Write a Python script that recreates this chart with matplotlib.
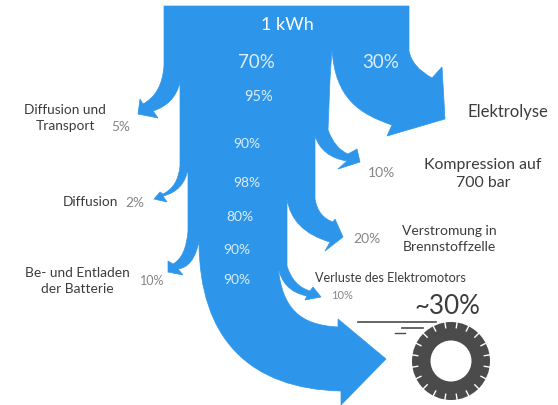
import numpy as np
import matplotlib
matplotlib.use("Agg")
import matplotlib.pyplot as plt
from matplotlib.path import Path
from matplotlib.patches import PathPatch, Circle

# ---- values and labels ----
source_label = "1 kWh"
split_values = ["70%", "30%"]
chain_values = ["95%", "90%", "98%", "80%", "90%", "90%"]
loss_values = ["5%", "2%", "10%", "10%", "20%", "10%"]
loss_names = ["Diffusion und\nTransport", "Diffusion", "Be- und Entladen\nder Batterie",
              "Kompression auf\n700 bar", "Verstromung in\nBrennstoffzelle", "Verluste des Elektromotors"]
extra_name = "Elektrolyse"
result_label = "~30%"

BLUE = "#2E96EA"
DARK = "#3c3c3c"
GREY = "#858585"
TIRE = "#4b4b4b"

plt.rcParams["font.family"] = ["Lato", "DejaVu Sans"]
fig = plt.figure(figsize=(5.58, 4.06), dpi=100)
ax = fig.add_axes([0, 0, 1, 1])
ax.set_xlim(0, 558)
ax.set_ylim(406, 0)
ax.axis("off")

# ---- outline of the Sankey band (figure drawn as one shape) ----
outline = [
    ("M", (164, 7)), ("L", (409, 7)), ("L", (409, 52)),
    ("Q", (412, 68), (432, 79)), ("L", (442, 68)), ("L", (445, 120)),
    ("L", (387, 137)), ("L", (392, 126)),
    ("C", (360, 115), (335, 100), (332, 50)),
    ("L", (330, 80)), ("L", (328, 131)),
    ("Q", (335, 150), (348, 155)), ("L", (357, 150)), ("L", (360, 163)),
    ("L", (338, 170)), ("L", (347, 162)),
    ("Q", (322, 158), (315, 137)),
    ("L", (315, 200)),
    ("Q", (318, 218), (333, 223)), ("L", (335, 220)), ("L", (343, 238)),
    ("L", (325, 252)), ("L", (330, 243)),
    ("Q", (292, 232), (287, 200)),
    ("L", (287, 267)),
    ("Q", (293, 287), (310, 292)), ("L", (313, 288)), ("L", (321, 298)),
    ("L", (305, 301)), ("L", (307, 297)),
    ("Q", (282, 292), (278, 267)),
    ("C", (282, 310), (300, 326), (338, 328)),
    ("L", (338, 320)), ("L", (386, 360)), ("L", (341, 406)), ("L", (341, 392)),
    ("C", (250, 390), (199, 340), (199, 242)),
    ("Q", (194, 268), (178, 270)), ("L", (183, 276)), ("L", (168, 273)),
    ("L", (168, 262)), ("L", (173, 265)),
    ("Q", (186, 258), (188, 232)),
    ("L", (188, 170)),
    ("Q", (184, 192), (163, 197)), ("L", (167, 203)), ("L", (154, 200)),
    ("L", (160, 193)), ("L", (163, 195)),
    ("Q", (178, 188), (180, 167)),
    ("L", (180, 83)),
    ("Q", (175, 105), (153, 112)), ("L", (158, 119)), ("L", (138, 115)),
    ("L", (140, 100)), ("L", (143, 105)),
    ("Q", (162, 95), (164, 67)),
]
verts, codes = [], []
for seg in outline:
    kind, pts = seg[0], seg[1:]
    verts.extend(pts)
    codes.extend({"M": [Path.MOVETO], "L": [Path.LINETO],
                  "Q": [Path.CURVE3] * 2, "C": [Path.CURVE4] * 3}[kind])
verts.append(outline[0][1])
codes.append(Path.CLOSEPOLY)
ax.add_patch(PathPatch(Path(verts, codes), fc=BLUE, ec=BLUE, lw=0.5, zorder=2))

# ---- text ----
def label(x, y, s, size, color, **kw):
    ax.text(x, y, s, fontsize=size, color=color, ha="center", va="center", zorder=4, **kw)

label(287, 25, source_label, 13, "white")
for (x, y), s in zip([(256, 62), (381, 62)], split_values):
    label(x, y, s, 13.5, "#dcedfb")
for (x, y, fs), s in zip([(259, 97, 10.5), (247, 144, 10), (247, 183, 10), (240, 217, 10), (237, 250, 10), (237, 280, 10)], chain_values):
    label(x, y, s, fs, "#dcedfb")
for (x, y, fs), s in zip([(121, 127, 9.8), (135, 203, 9.8), (152, 281, 9), (381, 173, 10), (367, 239, 10), (342, 296, 8)], loss_values):
    label(x, y, s, fs, GREY)
for (x, y, fs), s in zip([(65, 118, 9.9), (90, 202, 9.8), (77, 281, 9.9), (483, 174, 11.4), (449, 239, 10), (390, 278, 9.1)], loss_names):
    label(x, y, s, fs, DARK, linespacing=1.35)
label(508, 112, extra_name, 12, DARK)
label(447, 307, result_label, 18.7, DARK)

# ---- tyre icon ----
cx, cy = 451, 362
ax.add_patch(Circle((cx, cy), 39, fc=TIRE, ec="none", zorder=3))
ax.add_patch(Circle((cx, cy), 20.5, fc="white", ec="none", zorder=4))
for a in np.arange(0, 360, 18) + 9:
    t = np.radians(a)
    ax.plot([cx + 33 * np.cos(t), cx + 40 * np.cos(t)], [cy + 33 * np.sin(t), cy + 40 * np.sin(t)],
            color="white", lw=1.0, zorder=4, solid_capstyle="butt")
for x0, x1, y, w in [(358, 436, 323, 1.2), (402, 423, 329, 1.2), (395, 405, 334, 1.0)]:
    ax.plot([x0, x1], [y, y], color=TIRE, lw=w, zorder=3)

fig.savefig("out.png", dpi=100)
